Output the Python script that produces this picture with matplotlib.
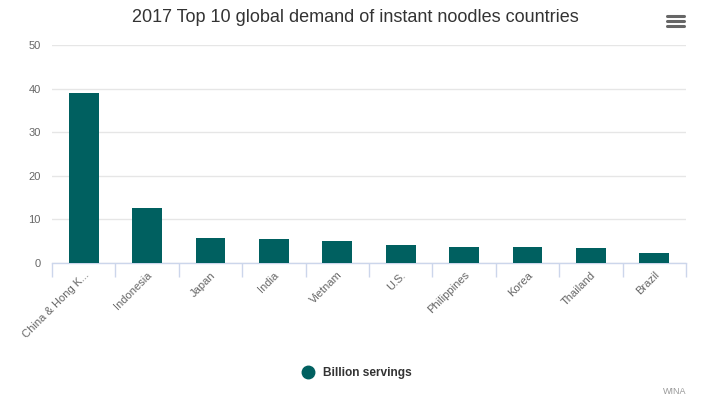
import matplotlib
matplotlib.use("Agg")
from matplotlib import pyplot as plt
from matplotlib.lines import Line2D

plt.rcParams['font.family'] = ['Liberation Sans', 'DejaVu Sans']

countries = ['China & Hong K...', 'Indonesia', 'Japan', 'India', 'Vietnam',
             'U.S.', 'Philippines', 'Korea', 'Thailand', 'Brazil']
servings = [38.97, 12.62, 5.66, 5.42, 4.98, 4.13, 3.75, 3.74, 3.39, 2.25]
yticks = [0, 10, 20, 30, 40, 50]

BAR = '#006060'
W, H = 721, 403

fig = plt.figure(figsize=(W / 100, H / 100), dpi=100)
ax = fig.add_axes([52 / W, (H - 263) / H, (686 - 52) / W, (263 - 45) / H])

x = list(range(len(countries)))
ax.bar(x, servings, width=0.47, color=BAR, zorder=3)

ax.set_xlim(-0.5, len(countries) - 0.5)
ax.set_ylim(0, 50)
ax.set_yticks(yticks)
ax.yaxis.grid(True, color='#e6e6e6', linewidth=1, zorder=0)
for s in ['top', 'right', 'left']:
    ax.spines[s].set_visible(False)
ax.spines['bottom'].set_color('#ccd6eb')
ax.spines['bottom'].set_linewidth(1)

ax.tick_params(axis='y', length=0, pad=8, labelsize=8, labelcolor='#666666')
# ticks on category boundaries, labels at centres
ax.set_xticks([i - 0.5 for i in range(len(countries) + 1)])
ax.set_xticklabels([])
ax.tick_params(axis='x', which='major', length=10, color='#ccd6eb', width=1)
ax.set_xticks(x, minor=True)
ax.set_xticklabels(countries, minor=True, rotation=45, ha='right',
                   rotation_mode='anchor', fontsize=8, color='#666666')
ax.tick_params(axis='x', which='minor', length=0, pad=5)

fig.text(355 / W, 1 - 18 / H, '2017 Top 10 global demand of instant noodles countries',
         ha='center', va='center', fontsize=13, color='#333333')

# menu icon
for yy in [16, 21, 26]:
    fig.add_artist(Line2D([667 / W, 684 / W], [1 - yy / H, 1 - yy / H],
                          color='#666666', linewidth=2.2, solid_capstyle='round'))

handle = Line2D([], [], marker='o', color=BAR, linestyle='none', markersize=9)
leg = fig.legend([handle], ['Billion servings'], loc='center',
                 bbox_to_anchor=(354 / W, 1 - 373 / H), frameon=False,
                 handletextpad=0.3, prop={'size': 8.6, 'weight': 'bold'})
for t in leg.get_texts():
    t.set_color('#333333')

fig.text(686 / W, 1 - 391 / H, 'WINA', ha='right', va='center',
         fontsize=6.5, color='#999999')

fig.savefig('out.png', dpi=100)
